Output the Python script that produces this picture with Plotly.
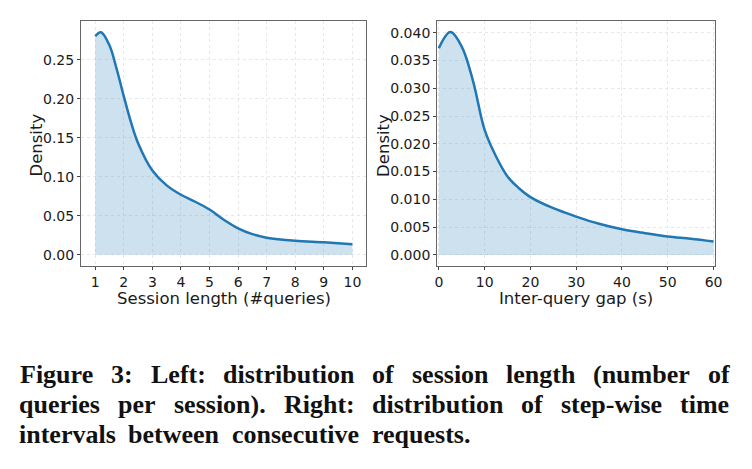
import plotly.graph_objects as go

# ---- data ----
sess_x = [1.0, 1.2, 1.5, 1.75, 2.0, 2.25, 2.5, 3.0, 3.5, 4.0, 4.5, 5.0, 5.5, 6.0, 6.5, 7.0, 8.0, 9.0, 10.0]
sess_y = [0.280, 0.285, 0.268, 0.238, 0.203, 0.170, 0.143, 0.108, 0.089, 0.077, 0.068, 0.058, 0.045, 0.034, 0.0265, 0.022, 0.018, 0.016, 0.0135]

gap_x = [0, 2.5, 5, 7.5, 10, 12.5, 15, 17.5, 20, 25, 30, 35, 40, 45, 50, 55, 60]
gap_y = [0.0372, 0.0401, 0.0375, 0.0312, 0.0225, 0.0177, 0.0141, 0.0120, 0.0104, 0.0084, 0.0069, 0.0056, 0.0046, 0.0039, 0.0033, 0.0029, 0.0024]

sess_ticks = [1, 2, 3, 4, 5, 6, 7, 8, 9, 10]
sess_yticks = [0.0, 0.05, 0.10, 0.15, 0.20, 0.25]
gap_ticks = [0, 10, 20, 30, 40, 50, 60]
gap_yticks = [0.0, 0.005, 0.010, 0.015, 0.020, 0.025, 0.030, 0.035, 0.040]

caption_lines = [
    "Figure 3: Left: distribution of session length (number of",
    "queries per session). Right: distribution of step-wise time",
    "intervals between consecutive requests.",
]
caption_justified = [True, True, False]

W, H = 752, 469
BLUE = "#1f77b4"
FILL = "rgba(31,119,180,0.22)"
TICKFONT = dict(family="DejaVu Sans", size=14, color="#1a1a1a")
TITLEFONT = dict(family="DejaVu Sans", size=16.5, color="#1a1a1a")

fig = go.Figure()
fig.add_trace(go.Scatter(x=sess_x, y=sess_y, mode="lines", line=dict(color=BLUE, width=2.5, shape="spline"),
                         fill="tozeroy", fillcolor=FILL, xaxis="x", yaxis="y", showlegend=False))
fig.add_trace(go.Scatter(x=gap_x, y=gap_y, mode="lines", line=dict(color=BLUE, width=2.5, shape="spline"),
                         fill="tozeroy", fillcolor=FILL, xaxis="x2", yaxis="y2", showlegend=False))

def px_x(p):
    return p / W

def px_y(p):
    return 1 - p / H

ydom = [px_y(266), px_y(21)]
common = dict(showline=True, linecolor="#666666", linewidth=1, mirror=True,
              ticks="outside", ticklen=3, tickcolor="#444444", tickfont=TICKFONT,
              showgrid=True, gridcolor="#e8e8e8", griddash="dot", gridwidth=1, zeroline=False)

fig.update_layout(
    width=W, height=H, margin=dict(l=0, r=0, t=0, b=0),
    paper_bgcolor="white", plot_bgcolor="white",
    xaxis=dict(domain=[px_x(79), px_x(368)], range=[0.5, 10.48], tickvals=sess_ticks, anchor="y", **common),
    yaxis=dict(domain=ydom, range=[-0.0143, 0.2995], tickvals=sess_yticks, tickformat=".2f", anchor="x", **common),
    xaxis2=dict(domain=[px_x(440), px_x(722)], range=[-0.37, 60.4], tickvals=gap_ticks, anchor="y2", **common),
    yaxis2=dict(domain=ydom, range=[-0.002, 0.0421], tickvals=gap_yticks, tickformat=".3f", anchor="x2", **common),
)

ann = []
ann.append(dict(text="Session length (#queries)", x=px_x(224), y=px_y(298), xref="paper", yref="paper",
                showarrow=False, font=TITLEFONT, xanchor="center", yanchor="middle"))
ann.append(dict(text="Inter-query gap (s)", x=px_x(581), y=px_y(298), xref="paper", yref="paper",
                showarrow=False, font=TITLEFONT, xanchor="center", yanchor="middle"))
ann.append(dict(text="Density", x=px_x(33), y=px_y(145), xref="paper", yref="paper", textangle=-90,
                showarrow=False, font=TITLEFONT, xanchor="center", yanchor="middle"))
ann.append(dict(text="Density", x=px_x(385), y=px_y(145), xref="paper", yref="paper", textangle=-90,
                showarrow=False, font=TITLEFONT, xanchor="center", yanchor="middle"))

# Times-Bold advance widths (per 1000 em), Liberation Serif Bold is metric compatible
TB = {" ": 250, "(": 333, ")": 333, "-": 333, ".": 250, "3": 500, ":": 333,
      "F": 611, "L": 667, "R": 722,
      "a": 500, "b": 556, "c": 444, "d": 556, "e": 444, "f": 333, "g": 500, "h": 556,
      "i": 278, "l": 278, "m": 833, "n": 556, "o": 500, "p": 556, "q": 556, "r": 444,
      "s": 389, "t": 333, "u": 556, "v": 500, "w": 722, "y": 500}
CAP_SIZE = 26
CAP_L, CAP_R = 17, 736
baselines = [382, 412, 442]
CAPFONT = dict(family="Liberation Serif", size=CAP_SIZE, color="#111111")

def wwidth(word):
    return sum(TB.get(c, 500) for c in word) * CAP_SIZE / 1000.0

for line, just, base in zip(caption_lines, caption_justified, baselines):
    words = line.split(" ")
    widths = [wwidth(w) for w in words]
    if just:
        gap = (CAP_R - CAP_L - sum(widths)) / (len(words) - 1)
    else:
        gap = 14
    x = CAP_L
    for w, wd in zip(words, widths):
        ann.append(dict(text="<b>%s</b>" % w, x=px_x(x + wd / 2), y=px_y(base - 8), xref="paper", yref="paper",
                        showarrow=False, font=CAPFONT, xanchor="center", yanchor="middle"))
        x += wd + gap

fig.update_layout(annotations=ann)
fig.write_html("out.html")
